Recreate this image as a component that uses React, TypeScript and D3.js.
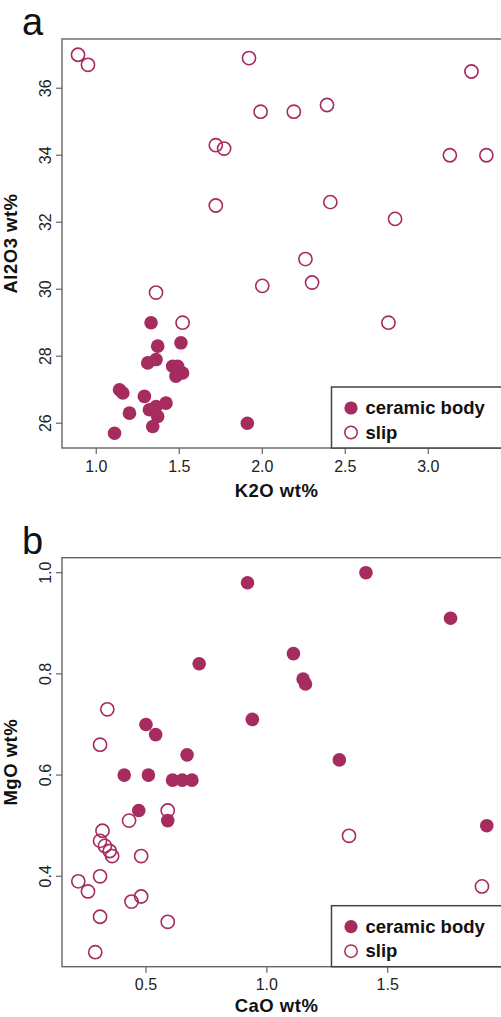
import * as d3 from 'd3';

// panel a: K2O vs Al2O3
const k2oBody = [1.33, 1.37, 1.51, 1.31, 1.36, 1.46, 1.49, 1.52, 1.48, 1.14, 1.16, 1.29, 1.2, 1.32, 1.36, 1.42, 1.37, 1.34, 1.11, 1.91];
const al2o3Body = [29.0, 28.3, 28.4, 27.8, 27.9, 27.7, 27.7, 27.5, 27.4, 27.0, 26.9, 26.8, 26.3, 26.4, 26.5, 26.6, 26.2, 25.9, 25.7, 26.0];
const k2oSlip = [0.89, 0.95, 1.72, 1.77, 1.72, 1.92, 1.99, 2.19, 2.39, 3.26, 3.13, 3.35, 2.41, 2.8, 2.26, 2.0, 2.3, 2.76, 1.36, 1.52];
const al2o3Slip = [37.0, 36.7, 34.3, 34.2, 32.5, 36.9, 35.3, 35.3, 35.5, 36.5, 34.0, 34.0, 32.6, 32.1, 30.9, 30.1, 30.2, 29.0, 29.9, 29.0];
const aXTicks = [1.0, 1.5, 2.0, 2.5, 3.0];
const aYTicks = [26, 28, 30, 32, 34, 36];

// panel b: CaO vs MgO
const caoBody = [0.92, 0.72, 0.5, 0.54, 0.94, 0.67, 1.41, 1.76, 1.11, 1.15, 1.16, 1.3, 0.41, 0.51, 0.61, 0.65, 0.69, 0.47, 0.59, 1.91];
const mgoBody = [0.98, 0.82, 0.7, 0.68, 0.71, 0.64, 1.0, 0.91, 0.84, 0.79, 0.78, 0.63, 0.6, 0.6, 0.59, 0.59, 0.59, 0.53, 0.51, 0.5];
const caoSlip = [0.34, 0.31, 0.59, 0.43, 0.32, 0.31, 0.33, 0.35, 0.36, 0.48, 0.31, 0.22, 0.26, 0.44, 0.48, 0.31, 0.59, 0.29, 1.34, 1.89];
const mgoSlip = [0.73, 0.66, 0.53, 0.51, 0.49, 0.47, 0.46, 0.45, 0.44, 0.44, 0.4, 0.39, 0.37, 0.35, 0.36, 0.32, 0.31, 0.25, 0.48, 0.38];
const bXTicks = [0.5, 1.0, 1.5];
const bYTicks = [0.4, 0.6, 0.8, 1.0];

const legendLabels = ['ceramic body', 'slip'];

const COLOR = '#A62B5F';
const FONT = '"Liberation Sans", Arial, Helvetica, sans-serif';

type PanelProps = {
  letter: string;
  top: number;
  bottom: number;
  xDomain: [number, number];
  yDomain: [number, number];
  xTicks: number[];
  yTicks: number[];
  yFmt: (d: number) => string;
  bodyX: number[];
  bodyY: number[];
  slipX: number[];
  slipY: number[];
  xLabel: string;
  yLabel: string;
  xLabelOffset: number;
};

function Panel(p: PanelProps) {
  const left = 62;
  const right = 506;
  const x = d3.scaleLinear().domain(p.xDomain).range([left, right]);
  const y = d3.scaleLinear().domain(p.yDomain).range([p.bottom, p.top]);
  const legendLeft = 331.5;
  const legendTop = p.bottom - 61;

  return (
    <g fontFamily={FONT}>
      <text x={22} y={p.top - 4} fontSize={38} fill="#111">{p.letter}</text>

      {/* slip first, body drawn over it */}
      {p.slipX.map((v, i) => (
        <circle key={'s' + i} cx={x(v)} cy={y(p.slipY[i])} r={6.6}
          fill="none" stroke={COLOR} strokeWidth={1.6} />
      ))}
      {p.bodyX.map((v, i) => (
        <circle key={'b' + i} cx={x(v)} cy={y(p.bodyY[i])} r={6.8} fill={COLOR} />
      ))}

      {/* box */}
      <rect x={left} y={p.top} width={right - left} height={p.bottom - p.top}
        fill="none" stroke="#666" strokeWidth={1.4} />

      {/* x axis */}
      {p.xTicks.map((t) => (
        <g key={'x' + t}>
          <line x1={x(t)} x2={x(t)} y1={p.bottom} y2={p.bottom + 6} stroke="#666" strokeWidth={1.2} />
          <text x={x(t)} y={p.bottom + 23.5} textAnchor="middle" fontSize={16} fill="#222">
            {d3.format('.1f')(t)}
          </text>
        </g>
      ))}
      <text x={276.5} y={p.bottom + p.xLabelOffset} textAnchor="middle" fontSize={18.5}
        fontWeight="bold" letterSpacing={0.5} fill="#111">{p.xLabel}</text>

      {/* y axis */}
      {p.yTicks.map((t) => (
        <g key={'y' + t}>
          <line x1={left - 6} x2={left} y1={y(t)} y2={y(t)} stroke="#666" strokeWidth={1.2} />
          <text transform={`translate(50.5,${y(t)}) rotate(-90)`} textAnchor="middle"
            fontSize={16} fill="#222">{p.yFmt(t)}</text>
        </g>
      ))}
      <text transform={`translate(17,${(p.top + p.bottom) / 2}) rotate(-90)`} textAnchor="middle"
        fontSize={18.5} fontWeight="bold" letterSpacing={0.5} fill="#111">{p.yLabel}</text>

      {/* legend */}
      <rect x={legendLeft} y={legendTop} width={200} height={p.bottom - legendTop}
        fill="#fff" stroke="#444" strokeWidth={1.5} />
      {legendLabels.map((lab, i) => {
        const cy = legendTop + 21 + i * 24.5;
        return (
          <g key={lab}>
            {i === 0
              ? <circle cx={351} cy={cy} r={6.6} fill={COLOR} />
              : <circle cx={351} cy={cy} r={6.2} fill="none" stroke={COLOR} strokeWidth={1.5} />}
            <text x={365.5} y={cy + 6} fontSize={18.5} fontWeight="bold" fill="#111">{lab}</text>
          </g>
        );
      })}
    </g>
  );
}

export default function App() {
  return (
    <svg width={501} height={1017}
      style={{ position: 'absolute', left: 0, top: 0, display: 'block', background: '#fff' }}>
      <Panel letter="a" top={39} bottom={448}
        xDomain={[0.7935, 0.7935 + 444 / 166]} yDomain={[25.26, 37.47]}
        xTicks={aXTicks} yTicks={aYTicks} yFmt={(d) => String(d)}
        bodyX={k2oBody} bodyY={al2o3Body} slipX={k2oSlip} slipY={al2o3Slip}
        xLabel="K2O wt%" yLabel="Al2O3 wt%" xLabelOffset={48.5} />
      <Panel letter="b" top={557.7} bottom={966.7}
        xDomain={[0.1525, 0.1525 + 444 / 241.7]} yDomain={[0.2213, 1.0296]}
        xTicks={bXTicks} yTicks={bYTicks} yFmt={(d) => d3.format('.1f')(d)}
        bodyX={caoBody} bodyY={mgoBody} slipX={caoSlip} slipY={mgoSlip}
        xLabel="CaO wt%" yLabel="MgO wt%" xLabelOffset={45.5} />
    </svg>
  );
}
